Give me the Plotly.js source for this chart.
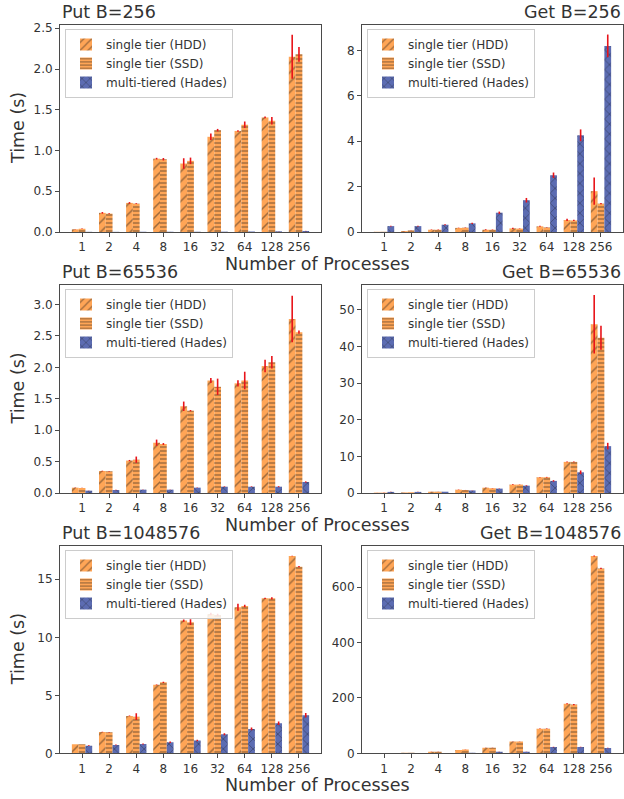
<!DOCTYPE html>
<html>
<head>
<meta charset="utf-8">
<script src="https://cdn.plot.ly/plotly-3.0.1.min.js"></script>
<style>html,body{margin:0;padding:0;background:#fff;}#chart{width:624px;height:799px;}</style>
</head>
<body>
<div id="chart"></div>
<script>
const processes = ["1", "2", "4", "8", "16", "32", "64", "128", "256"];
const seriesNames = ["single tier (HDD)", "single tier (SSD)", "multi-tiered (Hades)"];

// Put B=256
const put256Hdd = [0.033, 0.235, 0.357, 0.90, 0.84, 1.168, 1.24, 1.406, 2.15];
const put256HddErr = [0.002, 0.01, 0.01, 0.01, 0.065, 0.04, 0.01, 0.01, 0.27];
const put256Ssd = [0.04, 0.225, 0.348, 0.893, 0.873, 1.25, 1.316, 1.365, 2.18];
const put256SsdErr = [0.002, 0.005, 0.005, 0.015, 0.04, 0.015, 0.04, 0.045, 0.09];
const put256Hades = [0.002, 0.002, 0.003, 0.003, 0.003, 0.004, 0.006, 0.008, 0.012];
const put256HadesErr = [0, 0, 0, 0, 0, 0, 0, 0.001, 0.002];

// Get B=256
const get256Hdd = [0.01, 0.04, 0.1, 0.18, 0.1, 0.16, 0.25, 0.53, 1.8];
const get256HddErr = [0, 0.005, 0.01, 0.01, 0.02, 0.03, 0.02, 0.05, 0.6];
const get256Ssd = [0.01, 0.07, 0.1, 0.19, 0.1, 0.15, 0.2, 0.51, 1.25];
const get256SsdErr = [0, 0.005, 0.01, 0.01, 0.01, 0.01, 0.01, 0.03, 0.03];
const get256Hades = [0.26, 0.26, 0.32, 0.38, 0.85, 1.4, 2.5, 4.26, 8.2];
const get256HadesErr = [0.02, 0.02, 0.02, 0.03, 0.05, 0.1, 0.12, 0.26, 0.5];

// Put B=65536
const put65536Hdd = [0.085, 0.35, 0.516, 0.80, 1.38, 1.79, 1.745, 2.02, 2.77];
const put65536HddErr = [0.003, 0.005, 0.01, 0.05, 0.075, 0.04, 0.05, 0.1, 0.37];
const put65536Ssd = [0.08, 0.346, 0.53, 0.78, 1.31, 1.69, 1.79, 2.08, 2.56];
const put65536SsdErr = [0.002, 0.003, 0.05, 0.015, 0.01, 0.13, 0.14, 0.1, 0.025];
const put65536Hades = [0.037, 0.048, 0.053, 0.053, 0.085, 0.1, 0.1, 0.1, 0.175];
const put65536HadesErr = [0.002, 0.003, 0.003, 0.003, 0.003, 0.005, 0.005, 0.008, 0.01];

// Get B=65536
const get65536Hdd = [0.1, 0.15, 0.35, 0.9, 1.45, 2.3, 4.3, 8.5, 46.1];
const get65536HddErr = [0.01, 0.01, 0.02, 0.05, 0.05, 0.1, 0.1, 0.1, 8];
const get65536Ssd = [0.1, 0.2, 0.35, 0.8, 1.3, 2.3, 4.3, 8.5, 42.4];
const get65536SsdErr = [0.01, 0.01, 0.02, 0.03, 0.05, 0.05, 0.1, 0.1, 3.3];
const get65536Hades = [0.3, 0.3, 0.35, 0.7, 1.2, 2.0, 3.3, 5.65, 12.8];
const get65536HadesErr = [0.02, 0.02, 0.02, 0.03, 0.05, 0.1, 0.2, 0.5, 0.9];

// Put B=1048576
const put1048576Hdd = [0.78, 1.84, 3.22, 5.9, 11.44, 12.01, 12.59, 13.36, 17.0];
const put1048576HddErr = [0.01, 0.02, 0.03, 0.03, 0.1, 0.1, 0.3, 0.05, 0.02];
const put1048576Ssd = [0.78, 1.81, 3.16, 6.12, 11.3, 11.93, 12.7, 13.36, 16.09];
const put1048576SsdErr = [0.01, 0.02, 0.3, 0.05, 0.25, 0.1, 0.1, 0.1, 0.05];
const put1048576Hades = [0.66, 0.72, 0.8, 0.95, 1.1, 1.64, 2.1, 2.6, 3.28];
const put1048576HadesErr = [0.03, 0.03, 0.05, 0.06, 0.06, 0.08, 0.12, 0.15, 0.2];

// Get B=1048576
const get1048576Hdd = [1, 2, 6, 12, 20, 43, 89, 179, 713];
const get1048576HddErr = [0, 0, 0.2, 0.3, 0.5, 0.5, 1, 2, 2];
const get1048576Ssd = [1, 2, 6, 14, 20, 43, 89, 176, 668];
const get1048576SsdErr = [0, 0, 0.2, 0.3, 0.5, 0.5, 1, 2, 2];
const get1048576Hades = [0.5, 1, 1, 2, 6, 6, 23, 23, 19];
const get1048576HadesErr = [0, 0, 0, 0.1, 0.3, 0.3, 1, 1, 1];

const panelTitles = ["Put B=256", "Get B=256", "Put B=65536", "Get B=65536", "Put B=1048576", "Get B=1048576"];
const yTickSteps = [0.5, 2, 0.5, 10, 5, 200];
const yMaxes = [2.54, 9.12, 3.31, 56.8, 17.87, 749];

const panels = [
  [put256Hdd, put256HddErr, put256Ssd, put256SsdErr, put256Hades, put256HadesErr],
  [get256Hdd, get256HddErr, get256Ssd, get256SsdErr, get256Hades, get256HadesErr],
  [put65536Hdd, put65536HddErr, put65536Ssd, put65536SsdErr, put65536Hades, put65536HadesErr],
  [get65536Hdd, get65536HddErr, get65536Ssd, get65536SsdErr, get65536Hades, get65536HadesErr],
  [put1048576Hdd, put1048576HddErr, put1048576Ssd, put1048576SsdErr, put1048576Hades, put1048576HadesErr],
  [get1048576Hdd, get1048576HddErr, get1048576Ssd, get1048576SsdErr, get1048576Hades, get1048576HadesErr]
];

const W = 624, H = 799;
const orange = "rgb(255,165,86)";
const blue = "rgb(92,108,178)";
const hatch = "rgba(25,25,25,0.85)";
const textColor = "#333333";
const axisColor = "#4a4a4a";
const fontFam = "DejaVu Sans, sans-serif";

const colsPx = [[60, 321], [362, 623]];
const rowsPx = [[25, 232], [285, 493], [546, 753.3]];

const styles = [
  {color: orange, shape: "/", size: 7, solidity: 0.22},
  {color: orange, shape: "-", size: 4, solidity: 0.35},
  {color: blue, shape: "x", size: 7, solidity: 0.22}
];

const data = [];
const layout = {
  width: W, height: H,
  margin: {l: 0, r: 0, t: 0, b: 0},
  paper_bgcolor: "#fff", plot_bgcolor: "#fff",
  barmode: "group", bargap: 0.25, bargroupgap: 0,
  font: {family: fontFam, color: textColor, size: 12},
  annotations: []
};

panels.forEach((p, i) => {
  const r = Math.floor(i / 2), c = i % 2;
  const n = i + 1;
  const xa = "x" + (n === 1 ? "" : n), ya = "y" + (n === 1 ? "" : n);
  const legName = "legend" + (n === 1 ? "" : n);
  for (let s = 0; s < 3; s++) {
    const st = styles[s];
    data.push({
      type: "bar",
      name: seriesNames[s],
      x: processes,
      y: p[2 * s],
      xaxis: xa, yaxis: ya,
      legend: legName,
      marker: {
        color: st.color,
        line: {width: 0},
        pattern: {shape: st.shape, fgcolor: hatch, bgcolor: st.color, size: st.size, solidity: st.solidity, fillmode: "overlay"}
      },
      error_y: {type: "data", array: p[2 * s + 1], visible: true, color: "#e8141a", thickness: 1.6, width: 0},
      hoverinfo: "x+y+name"
    });
  }
  const xd = [colsPx[c][0] / W, colsPx[c][1] / W];
  const yd = [1 - rowsPx[r][1] / H, 1 - rowsPx[r][0] / H];
  layout["xaxis" + (n === 1 ? "" : n)] = {
    domain: xd, anchor: ya, type: "category",
    range: [-0.8125, 8.8125],
    showline: true, mirror: true, linecolor: axisColor, linewidth: 1,
    ticks: "outside", ticklen: 4, tickcolor: axisColor, tickwidth: 1,
    showgrid: false, zeroline: false,
    tickfont: {size: 12, color: textColor, family: fontFam}
  };
  const yax = {
    domain: yd, anchor: xa,
    range: [0, yMaxes[i]], dtick: yTickSteps[i], tick0: 0,
    showline: true, mirror: true, linecolor: axisColor, linewidth: 1,
    ticks: "outside", ticklen: 4, tickcolor: axisColor, tickwidth: 1,
    showgrid: false, zeroline: false,
    tickfont: {size: 12, color: textColor, family: fontFam}
  };
  if (yTickSteps[i] < 1) yax.tickformat = ".1f";
  layout["yaxis" + (n === 1 ? "" : n)] = yax;

  layout[legName] = {
    x: xd[0] + 5 / W, y: yd[1] - 4 / H, xanchor: "left", yanchor: "top",
    bgcolor: "rgba(255,255,255,0.85)", bordercolor: "#cccccc", borderwidth: 1,
    font: {size: 12, color: textColor, family: fontFam},
    traceorder: "normal", itemwidth: 30
  };

  // panel title
  layout.annotations.push({
    text: panelTitles[i], xref: "paper", yref: "paper",
    x: c === 0 ? xd[0] : xd[1], xanchor: c === 0 ? "left" : "right",
    y: 1 - (rowsPx[r][0] - 13) / H, yanchor: "middle",
    showarrow: false, font: {size: 17.5, color: textColor, family: fontFam}
  });
  if (c === 0) {
    // x label for the row
    layout.annotations.push({
      text: "Number of Processes", xref: "paper", yref: "paper",
      x: 317 / W, xanchor: "center",
      y: 1 - (rowsPx[r][1] + 32) / H, yanchor: "middle",
      showarrow: false, font: {size: 17.5, color: textColor, family: fontFam}
    });
    // y label
    layout.annotations.push({
      text: "Time (s)", xref: "paper", yref: "paper",
      x: 17.5 / W, xanchor: "center",
      y: (yd[0] + yd[1]) / 2, yanchor: "middle", textangle: -90,
      showarrow: false, font: {size: 17.5, color: textColor, family: fontFam}
    });
  }
});

Plotly.newPlot("chart", data, layout, {displayModeBar: false, staticPlot: true});
</script>
</body>
</html>
